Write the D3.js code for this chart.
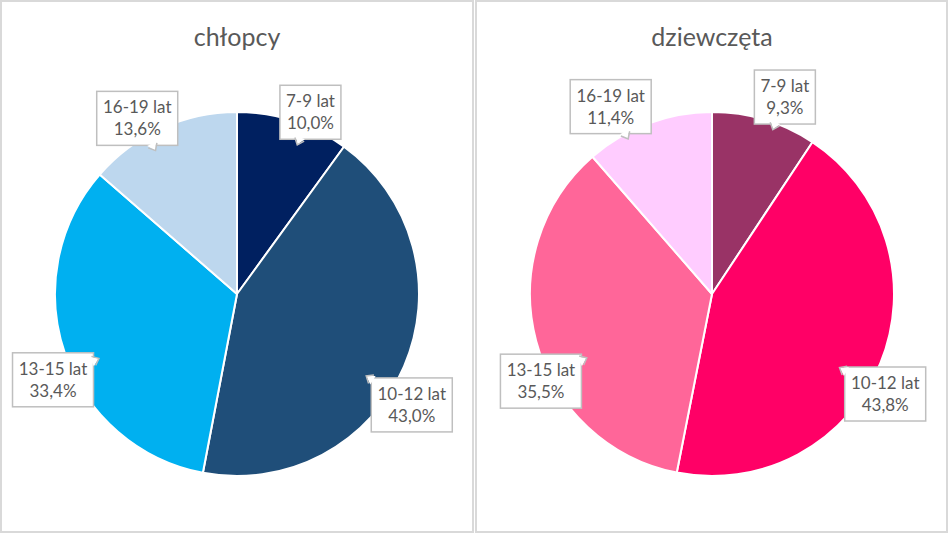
<!DOCTYPE html>
<html>
<head>
<meta charset="utf-8">
<script src="https://cdn.jsdelivr.net/npm/d3@7"></script>
<style>
  html, body { margin: 0; padding: 0; background: #fff; }
  svg { display: block; }
</style>
</head>
<body>
<svg id="chart" width="948" height="534"></svg>
<script>
const categories = ["7-9 lat", "10-12 lat", "13-15 lat", "16-19 lat"];
const boysValues = [10.0, 43.0, 33.4, 13.6];
const girlsValues = [9.3, 43.8, 35.5, 11.4];
const titles = ["chłopcy", "dziewczęta"];
const boysColors = ["#002060", "#1F4E79", "#00B0F0", "#BDD7EE"];
const girlsColors = ["#993366", "#FF0066", "#FF6699", "#FFCCFF"];

// label placement (angle in degrees clockwise from top, distance from centre)
const boysLabelPos = [[22, 196], [122.4, 207], [245, 203], [330.4, 202]];
const girlsLabelPos = [[20.3, 210], [120, 200], [243, 192], [331.6, 213]];

const svg = d3.select("#chart");
const W = 948, H = 534;
const panelW = 474;
const radius = 182;
const cy = 294;
const textColor = "#595959";
const borderColor = "#d9d9d9";
const fontFamily = "Lato, 'Open Sans', sans-serif";

const panels = [
  { title: titles[0], values: boysValues, colors: boysColors, labelPos: boysLabelPos },
  { title: titles[1], values: girlsValues, colors: girlsColors, labelPos: girlsLabelPos }
];

const fmt = v => v.toFixed(1).replace(".", ",") + "%";

panels.forEach((p, i) => {
  const x0 = i * (panelW + 1);
  const g = svg.append("g").attr("transform", `translate(${x0},0)`);
  g.append("rect")
    .attr("x", 1).attr("y", 1)
    .attr("width", panelW - 2 - (i === 1 ? 1 : 0)).attr("height", H - 3)
    .attr("fill", "#fff")
    .attr("stroke", borderColor).attr("stroke-width", 2);

  const cx = 237;
  g.append("text")
    .attr("x", cx).attr("y", 46)
    .attr("text-anchor", "middle")
    .attr("font-family", fontFamily)
    .attr("font-size", 25)
    .attr("fill", textColor)
    .text(p.title);

  const pie = d3.pie().sort(null).value(d => d)(p.values);
  const arc = d3.arc().innerRadius(0).outerRadius(radius);
  const pg = g.append("g").attr("transform", `translate(${cx},${cy})`);
  pg.selectAll("path.slice").data(pie).join("path")
    .attr("class", "slice")
    .attr("d", arc)
    .attr("fill", (d, j) => p.colors[j])
    .attr("stroke", "#fff").attr("stroke-width", 2)
    .attr("stroke-linejoin", "round");

  // labels
  pie.forEach((d, j) => {
    const [angDeg, dist] = p.labelPos[j];
    const a = angDeg * Math.PI / 180;
    const lx = dist * Math.sin(a), ly = -dist * Math.cos(a);
    const lg = pg.append("g").attr("transform", `translate(${lx},${ly})`);
    const t = lg.append("text")
      .attr("text-anchor", "middle")
      .attr("font-family", fontFamily)
      .attr("font-size", 17)
      .attr("fill", textColor);
    t.append("tspan").attr("x", 0).attr("y", -5).text(categories[j]);
    t.append("tspan").attr("x", 0).attr("y", 17).text(fmt(d.value));
    const bb = t.node().getBBox();
    const bw = Math.round(bb.width + 12), bh = 54;
    const bx = -bw / 2, by = -bh / 2;

    // small tail toward the pie centre
    const dx = -lx, dy = -ly;
    const len = Math.hypot(dx, dy);
    const ux = dx / len, uy = dy / len;
    const tx = Math.abs(ux) > 1e-6 ? (bw / 2) / Math.abs(ux) : Infinity;
    const ty = Math.abs(uy) > 1e-6 ? (bh / 2) / Math.abs(uy) : Infinity;
    const s = Math.min(tx, ty);
    const ex = ux * s, ey = uy * s;
    const px = -uy, py = ux;
    const tipX = ex + ux * 6, tipY = ey + uy * 6;
    const b1 = [ex + px * 5 - ux * 2, ey + py * 5 - uy * 2];
    const b2 = [ex - px * 5 - ux * 2, ey - py * 5 - uy * 2];

    lg.insert("rect", "text")
      .attr("x", bx).attr("y", by)
      .attr("width", bw).attr("height", bh)
      .attr("fill", "#fff")
      .attr("stroke", "#bfbfbf").attr("stroke-width", 1.5);
    lg.insert("path", "text")
      .attr("d", `M${b1[0]},${b1[1]}L${tipX},${tipY}L${b2[0]},${b2[1]}Z`)
      .attr("fill", "#fff");
    lg.insert("path", "text")
      .attr("d", `M${ex + px * 5},${ey + py * 5}L${tipX},${tipY}L${ex - px * 5},${ey - py * 5}`)
      .attr("fill", "none")
      .attr("stroke", "#bfbfbf").attr("stroke-width", 1.5);
  });
});
</script>
</body>
</html>
